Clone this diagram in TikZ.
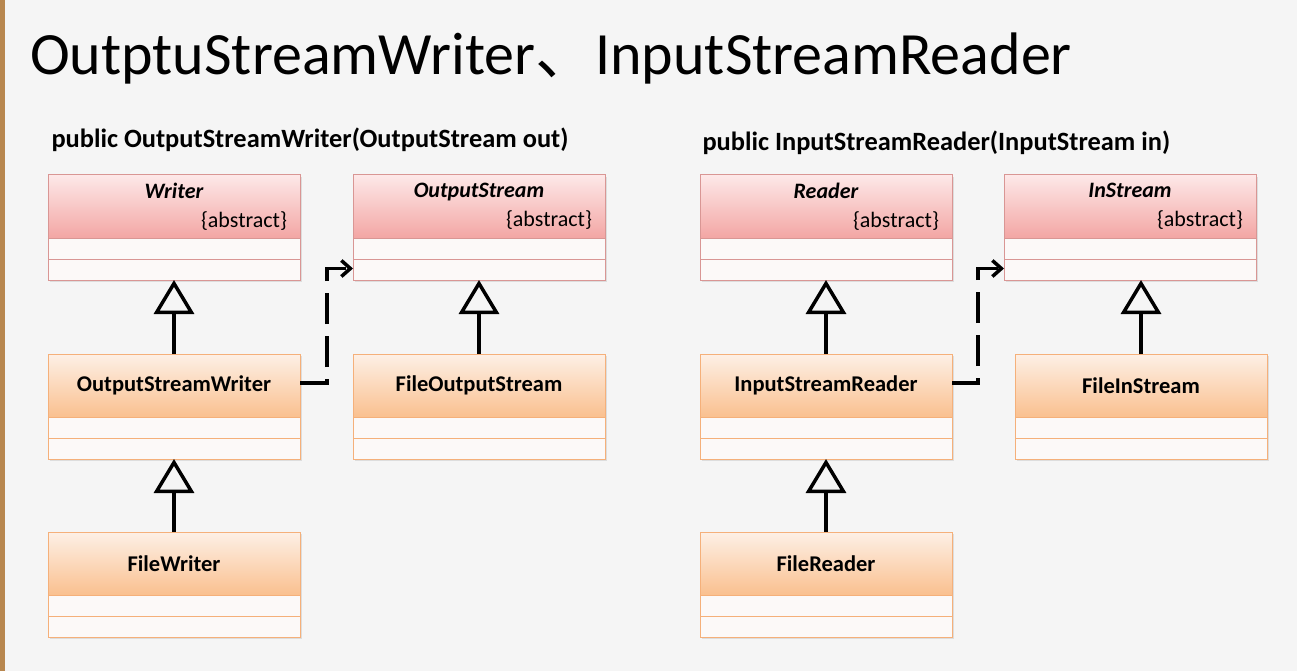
\documentclass[tikz,border=0pt]{standalone}
\usepackage{fontspec}
\setmainfont{Carlito}
\newfontfamily\cjk{Noto Sans CJK JP}
\usetikzlibrary{positioning,arrows.meta,shadows}
\definecolor{slide}{HTML}{F5F5F5}
\definecolor{frame}{HTML}{B8874F}
\definecolor{pinktop}{HTML}{FDE8E8}
\definecolor{pinkbot}{HTML}{F3A6A4}
\definecolor{pinkline}{HTML}{D99694}
\definecolor{orgtop}{HTML}{FDF0E6}
\definecolor{orgbot}{HTML}{FAC08F}
\definecolor{orgline}{HTML}{F5B07A}
\definecolor{cellfill}{HTML}{FCF9F8}
\tikzset{
  box/.style={draw, line width=1pt, minimum width=252pt, inner sep=0pt,
    outer sep=0pt, drop shadow={shadow xshift=2pt, shadow yshift=-2pt, opacity=0.2}},
  abstracthead/.style={box, draw=pinkline, top color=pinktop, bottom color=pinkbot,
    minimum height=63pt, text width=226pt, font=\fontsize{22}{29}\selectfont},
  classhead/.style={box, draw=orgline, top color=orgtop, bottom color=orgbot,
    minimum height=63pt, font=\fontsize{22.5}{26}\selectfont\bfseries},
  pinkcell/.style={box, draw=pinkline, fill=cellfill, minimum height=21pt},
  orgcell/.style={box, draw=orgline, fill=cellfill, minimum height=21pt},
  extends/.style={line width=3.5pt,
    -{Triangle[open, length=34pt, width=40pt, line width=3.5pt]}},
  uses/.style={line width=3.5pt, dash pattern=on 31pt off 12pt,
    -{Straight Barb[length=9pt, width=16pt, line width=3.5pt]}},
  signature/.style={anchor=west, font=\fontsize{26.4}{30}\selectfont\bfseries}
}
% one class: header and two empty compartments
\newcommand\umlclass[5]{%
  \node[#1head] (#2) at (#3) {#4};
  \node[#5cell, below=0pt of #2] (#2-a) {};
  \node[#5cell, below=0pt of #2-a] (#2-b) {};
}
\newcommand\abstractclass[1]{\centering{\bfseries\itshape #1}\par\raggedleft\{abstract\}\par}

\begin{document}
\begin{tikzpicture}[x=1pt,y=-1pt]
  % slide
  \fill[slide] (0,0) rectangle (1297,671);
  \fill[frame] (0,0) rectangle (5,671);
  \useasboundingbox (0,0) rectangle (1297,671);

  \node[anchor=base west, inner sep=0pt, font=\fontsize{60}{70}\selectfont] (title)
    at (30,75) {OutptuStreamWriter{\cjk 、}InputStreamReader};

  \node[signature] (sigw) at (48,140) {public OutputStreamWriter(OutputStream out)};
  \node[signature] (sigr) at (699,143) {public InputStreamReader(InputStream in)};

  % writer side
  \umlclass{abstract}{writer}{174,206.5}{\abstractclass{Writer}}{pink}
  \umlclass{abstract}{ostream}{479,206.5}{\abstractclass{OutputStream}}{pink}
  \umlclass{class}{osw}{174,385.5}{OutputStreamWriter}{org}
  \umlclass{class}{fos}{479,385.5}{FileOutputStream}{org}
  \umlclass{class}{fw}{174,563.5}{FileWriter}{org}

  % reader side
  \umlclass{abstract}{reader}{826,206.5}{\abstractclass{Reader}}{pink}
  \umlclass{abstract}{instream}{1130,206.5}{\abstractclass{InStream}}{pink}
  \umlclass{class}{isr}{826,385.5}{InputStreamReader}{org}
  \umlclass{class}{fis}{1141,385.5}{FileInStream}{org}
  \umlclass{class}{fr}{826,563.5}{FileReader}{org}

  % generalisation
  \draw[extends] (osw.north) -- (writer-b.south);
  \draw[extends] (fw.north) -- (osw-b.south);
  \draw[extends] (fos.north) -- (ostream-b.south);
  \draw[extends] (isr.north) -- (reader-b.south);
  \draw[extends] (fr.north) -- (isr-b.south);
  \draw[extends] (fis.north) -- (fis.north |- instream-b.south);

  % dependency
  \draw[uses] ([yshift=2.5pt]osw.east) -- ++(27,0) |- ([yshift=1pt]ostream-b.west);
  \draw[uses] ([yshift=2.5pt]isr.east) -- ++(26,0) |- ([yshift=1pt]instream-b.west);
\end{tikzpicture}
\end{document}
